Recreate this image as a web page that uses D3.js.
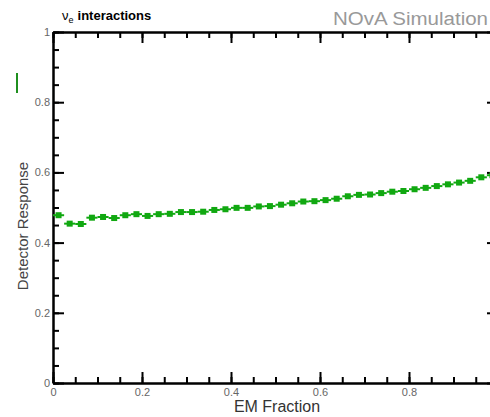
<!DOCTYPE html>
<html>
<head>
<meta charset="utf-8">
<script src="https://cdn.jsdelivr.net/npm/d3@7"></script>
<style>
  body { margin: 0; background: #fff; }
  svg { display: block; font-family: "Liberation Sans", Arial, sans-serif; }
  .axis path, .axis line { stroke: #000; stroke-width: 2px; }
  .axis text { fill: #666; font-size: 11px; font-family: "Liberation Sans", Arial, sans-serif; }
</style>
</head>
<body>
<svg width="490" height="417"></svg>
<script>
// EM fraction bins (width 0.025) and detector response per bin
var binEdges = d3.range(0, 1.0001, 0.025);
var response = [0.478, 0.454, 0.453, 0.471, 0.473, 0.470, 0.478, 0.481, 0.476, 0.481,
                0.482, 0.487, 0.487, 0.488, 0.493, 0.495, 0.499, 0.499, 0.503, 0.504,
                0.508, 0.512, 0.517, 0.518, 0.521, 0.525, 0.532, 0.536, 0.537, 0.541,
                0.545, 0.547, 0.552, 0.556, 0.561, 0.566, 0.571, 0.576, 0.586, 0.592];
var xMajor = [0, 0.2, 0.4, 0.6, 0.8];
var yMajor = [0, 0.2, 0.4, 0.6, 0.8, 1];
var minorTicks = d3.range(0, 1.0001, 0.05);

var svg = d3.select("svg");

var x = d3.scaleLinear().domain([0, 1]).range([53, 498]);
var y = d3.scaleLinear().domain([0, 1]).range([383, 32]);

var data = response.map(function(v, i) {
  return { lo: binEdges[i], hi: binEdges[i + 1], value: v };
});

var fmt = function(d) { return d === 0 || d === 1 ? d3.format("d")(d) : d3.format(".1f")(d); };

// minor ticks first
svg.append("g").attr("class", "axis")
   .attr("transform", "translate(0,383)")
   .call(d3.axisBottom(x).tickValues(minorTicks).tickSize(-6).tickSizeOuter(0).tickFormat(""));
svg.append("g").attr("class", "axis")
   .attr("transform", "translate(0,32)")
   .call(d3.axisTop(x).tickValues(minorTicks).tickSize(-6).tickSizeOuter(0).tickFormat(""));
svg.append("g").attr("class", "axis")
   .attr("transform", "translate(53,0)")
   .call(d3.axisLeft(y).tickValues(minorTicks).tickSize(-6).tickSizeOuter(0).tickFormat(""));
svg.append("g").attr("class", "axis")
   .attr("transform", "translate(498,0)")
   .call(d3.axisRight(y).tickValues(minorTicks).tickSize(-6).tickSizeOuter(0).tickFormat(""));

// major ticks
svg.append("g").attr("class", "axis")
   .attr("transform", "translate(0,383)")
   .call(d3.axisBottom(x).tickValues(xMajor).tickSize(-11).tickSizeOuter(0).tickPadding(5).tickFormat(fmt));
svg.append("g").attr("class", "axis")
   .attr("transform", "translate(0,32)")
   .call(d3.axisTop(x).tickValues(xMajor.concat([1])).tickSize(-11).tickSizeOuter(0).tickFormat(""));
svg.append("g").attr("class", "axis")
   .attr("transform", "translate(53,0)")
   .call(d3.axisLeft(y).tickValues(yMajor).tickSize(-11).tickSizeOuter(0).tickPadding(3).tickFormat(fmt));
svg.append("g").attr("class", "axis")
   .attr("transform", "translate(498,0)")
   .call(d3.axisRight(y).tickValues(yMajor).tickSize(-11).tickSizeOuter(0).tickFormat(""));

// error bars + markers
var pts = svg.append("g");
pts.selectAll(".err")
   .data(data)
   .enter()
   .append("line")
   .attr("class", "err")
   .attr("x1", function(d) { return x(d.lo); })
   .attr("x2", function(d) { return x(d.hi); })
   .attr("y1", function(d) { return y(d.value); })
   .attr("y2", function(d) { return y(d.value); })
   .attr("stroke", "#11a811")
   .attr("stroke-width", 2);
pts.selectAll(".pt")
   .data(data)
   .enter()
   .append("rect")
   .attr("class", "pt")
   .attr("x", function(d) { return x((d.lo + d.hi) / 2) - 3; })
   .attr("y", function(d) { return y(d.value) - 3; })
   .attr("width", 6)
   .attr("height", 6)
   .attr("fill", "#11a811");

// titles
var t = svg.append("text")
   .attr("x", 62)
   .attr("y", 20)
   .attr("font-size", "13px")
   .attr("fill", "#000");
t.append("tspan").text("ν");
t.append("tspan").attr("font-size", "9px").attr("dy", 3).text("e");
t.append("tspan").attr("dy", -3).attr("dx", 4).attr("font-weight", "bold").text("interactions");

svg.append("text")
   .attr("x", 488)
   .attr("y", 25)
   .attr("text-anchor", "end")
   .attr("font-size", "18px")
   .attr("fill", "#999")
   .attr("textLength", 155)
   .attr("lengthAdjust", "spacingAndGlyphs")
   .text("NOvA Simulation");

svg.append("text")
   .attr("x", 277)
   .attr("y", 412)
   .attr("text-anchor", "middle")
   .attr("font-size", "16px")
   .attr("fill", "#333")
   .text("EM Fraction");

svg.append("text")
   .attr("transform", "translate(28,226) rotate(-90)")
   .attr("text-anchor", "middle")
   .attr("font-size", "15px")
   .attr("fill", "#444")
   .text("Detector Response");

// legend remnant
svg.append("line")
   .attr("x1", 17).attr("x2", 17)
   .attr("y1", 73).attr("y2", 93)
   .attr("stroke", "#1f8f1f")
   .attr("stroke-width", 2);
</script>
</body>
</html>
